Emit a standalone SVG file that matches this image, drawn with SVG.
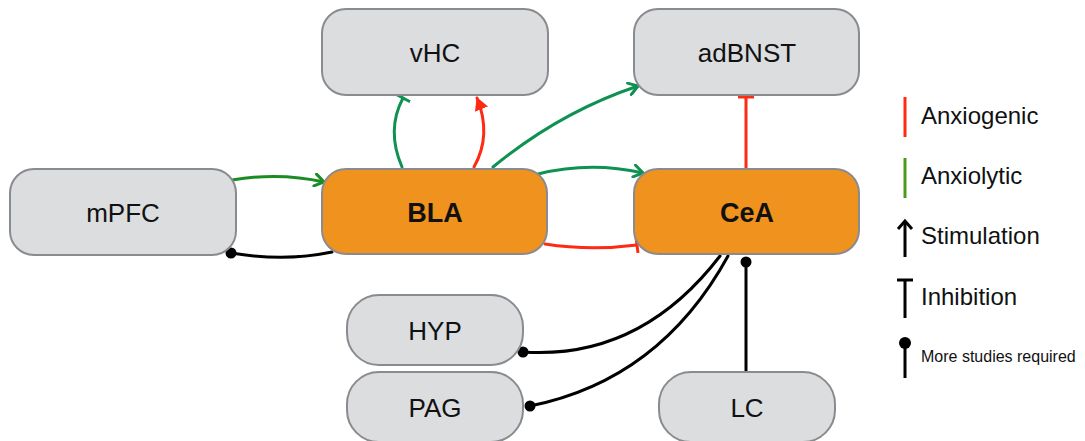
<svg xmlns="http://www.w3.org/2000/svg" width="1085" height="441" viewBox="0 0 1085 441">
  <style>
    .box { fill: #dcdddf; stroke: #8a8b8f; stroke-width: 2; }
    .hub { fill: #f0921e; stroke: #8a8b8f; stroke-width: 2; }
    .lbl { font-family: "Liberation Sans", Arial, sans-serif; font-size: 26px; fill: #111; text-anchor: middle; }
    .bold { font-weight: bold; font-size: 27px; }
    .leg { font-family: "Liberation Sans", Arial, sans-serif; font-size: 24px; fill: #111; }
    .small { font-size: 16px; }
    .edge { fill: none; stroke-width: 3; stroke-linecap: round; }
    .grn { stroke: #1a8c22; }
    .teal { stroke: #0f9152; }
    .red { stroke: #ff2a12; }
    .blk { stroke: #000; }
  </style>
  <defs>
    <marker id="openT" viewBox="0 0 14 14" refX="11" refY="7" markerWidth="14" markerHeight="14" markerUnits="userSpaceOnUse" orient="auto">
      <path d="M2,1 L11,7 L2,13" fill="none" stroke="context-stroke" stroke-width="3" stroke-linecap="round"/>
    </marker>
    <marker id="fillRed" viewBox="0 0 14 14" refX="12" refY="7" markerWidth="14" markerHeight="14" markerUnits="userSpaceOnUse" orient="auto">
      <path d="M0,0 L13,7 L0,14 Z" fill="#ff2a12"/>
    </marker>
    <marker id="barRed" viewBox="0 0 6 16" refX="3" refY="8" markerWidth="6" markerHeight="16" markerUnits="userSpaceOnUse" orient="auto">
      <line x1="3" y1="0" x2="3" y2="16" stroke="#ff2a12" stroke-width="3"/>
    </marker>
    <marker id="barTeal" viewBox="0 0 6 16" refX="3" refY="8" markerWidth="6" markerHeight="16" markerUnits="userSpaceOnUse" orient="auto">
      <line x1="3" y1="0" x2="3" y2="16" stroke="#0f9152" stroke-width="3"/>
    </marker>
    <marker id="dot" viewBox="0 0 12 12" refX="6" refY="6" markerWidth="12" markerHeight="12" markerUnits="userSpaceOnUse">
      <circle cx="6" cy="6" r="5.5" fill="#000"/>
    </marker>
  </defs>

  <g id="connectors">
    <!-- mPFC -> BLA -->
    <path class="edge grn" d="M232,180 Q280,172 324,182" marker-end="url(#openT)"/>
    <!-- BLA -> mPFC (uncertain) -->
    <path class="edge blk" d="M332,252 Q285,262 231,253" marker-end="url(#dot)"/>
    <!-- BLA -| vHC -->
    <path class="edge teal" d="M402,167 Q386,130 403,98" marker-end="url(#barTeal)"/>
    <!-- BLA -> vHC -->
    <path class="edge red" d="M474,167 Q492,135 477,98" marker-end="url(#fillRed)"/>
    <!-- BLA -> adBNST -->
    <path class="edge teal" d="M493,167 Q560,112 638,86" marker-end="url(#openT)"/>
    <!-- BLA -> CeA -->
    <path class="edge teal" d="M538,174 Q590,161 643,173" marker-end="url(#openT)"/>
    <!-- BLA -| CeA -->
    <path class="edge red" d="M545,244 Q590,251 637,245" marker-end="url(#barRed)"/>
    <!-- CeA -| adBNST -->
    <path class="edge red" d="M746,168 L746,97" marker-end="url(#barRed)"/>
    <!-- CeA -> HYP (uncertain) -->
    <path class="edge blk" d="M720,256 Q640,360 523,352" marker-end="url(#dot)"/>
    <!-- CeA -> PAG (uncertain) -->
    <path class="edge blk" d="M728,256 Q660,380 530,406" marker-end="url(#dot)"/>
    <!-- LC -> CeA (uncertain) -->
    <path class="edge blk" d="M746,372 L746,262" marker-end="url(#dot)"/>
  </g>

  <g id="node-vHC">
    <rect class="box" x="322" y="9" width="226" height="86" rx="24"/>
    <text class="lbl" x="435" y="62">vHC</text>
  </g>
  <g id="node-adBNST">
    <rect class="box" x="634" y="9" width="225" height="86" rx="24"/>
    <text class="lbl" x="747" y="62">adBNST</text>
  </g>
  <g id="node-mPFC">
    <rect class="box" x="10" y="169" width="226" height="86" rx="24"/>
    <text class="lbl" x="123" y="222">mPFC</text>
  </g>
  <g id="node-BLA">
    <rect class="hub" x="322" y="169" width="225" height="85" rx="24"/>
    <text class="lbl bold" x="435" y="222">BLA</text>
  </g>
  <g id="node-CeA">
    <rect class="hub" x="634" y="169" width="225" height="85" rx="24"/>
    <text class="lbl bold" x="747" y="222">CeA</text>
  </g>
  <g id="node-HYP">
    <rect class="box" x="347" y="295" width="176" height="70" rx="32"/>
    <text class="lbl" x="435" y="340">HYP</text>
  </g>
  <g id="node-PAG">
    <rect class="box" x="347" y="372" width="176" height="70" rx="32"/>
    <text class="lbl" x="435" y="417">PAG</text>
  </g>
  <g id="node-LC">
    <rect class="box" x="659" y="372" width="176" height="70" rx="32"/>
    <text class="lbl" x="747" y="417">LC</text>
  </g>

  <g id="legend">
    <line x1="905" y1="97" x2="905" y2="137" stroke="#ff2a12" stroke-width="3"/>
    <text class="leg" x="921" y="124">Anxiogenic</text>
    <line x1="905" y1="158" x2="905" y2="198" stroke="#4c9a1a" stroke-width="3"/>
    <text class="leg" x="921" y="184">Anxiolytic</text>
    <line x1="905" y1="222" x2="905" y2="257" stroke="#000" stroke-width="3"/>
    <path d="M898,229 L905,221 L912,229" fill="none" stroke="#000" stroke-width="3"/>
    <text class="leg" x="921" y="244">Stimulation</text>
    <line x1="905" y1="280" x2="905" y2="318" stroke="#000" stroke-width="3"/>
    <line x1="897" y1="280" x2="913" y2="280" stroke="#000" stroke-width="3"/>
    <text class="leg" x="921" y="305">Inhibition</text>
    <line x1="905" y1="343" x2="905" y2="378" stroke="#000" stroke-width="3"/>
    <circle cx="905" cy="343" r="6" fill="#000"/>
    <text class="leg small" x="921" y="362">More studies required</text>
  </g>
</svg>
